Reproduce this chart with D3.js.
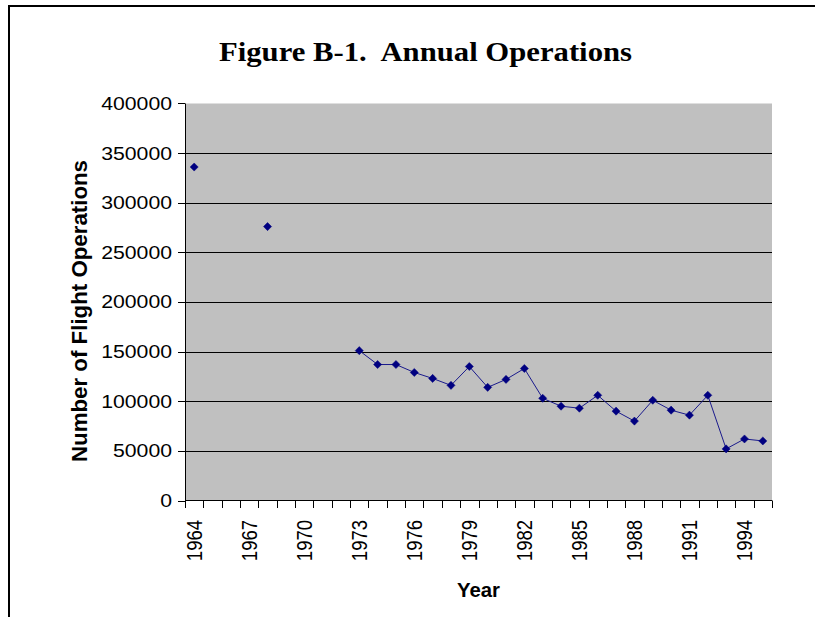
<!DOCTYPE html>
<html>
<head>
<meta charset="utf-8">
<script src="https://cdn.jsdelivr.net/npm/d3@7"></script>
<style>
  html, body { margin: 0; padding: 0; background: #fff; }
  svg { display: block; }
</style>
</head>
<body>
<svg id="chart" width="815" height="617"></svg>
<script>
// ---- data ----
const years = d3.range(1964, 1996);            // category axis 1964..1995
const obsYears = [1964, 1968, 1973, 1974, 1975, 1976, 1977, 1978, 1979, 1980,
                  1981, 1982, 1983, 1984, 1985, 1986, 1987, 1988, 1989, 1990,
                  1991, 1992, 1993, 1994, 1995];
const operations = [336000, 276000, 151000, 137000, 137000, 129000, 123000, 116000, 135000, 114000,
                    122000, 133000, 103000, 95000, 93000, 106000, 90000, 80000, 101000, 91000,
                    86000, 106000, 52000, 62000, 60000];
const yTicks = [0, 50000, 100000, 150000, 200000, 250000, 300000, 350000, 400000];
const xTickLabels = ["1964","1967","1970","1973","1976","1979","1982","1985","1988","1991","1994"];

const titleText = "Figure B-1.  Annual Operations";
const yTitle = "Number of Flight Operations";
const xTitle = "Year";

// ---- layout ----
const svg = d3.select("#chart");
const L = 185, R = 772, T = 103.5, B = 500.5;
const SX = 1.18; // horizontal stretch of the original picture

const x = d3.scaleBand().domain(years).range([L, R]).paddingInner(0).paddingOuter(0);
const y = d3.scaleLinear().domain([0, 400000]).range([B, T]);

// outer frame (only top and left visible)
svg.append("path")
  .attr("d", `M9,617 L9,6 L815,6`)
  .attr("fill", "none").attr("stroke", "#000").attr("stroke-width", 2);

// title
svg.append("text")
  .attr("x", 219).attr("y", 61)
  .attr("font-family", "'Liberation Serif','Times New Roman',serif")
  .attr("font-weight", "bold").attr("font-size", 28)
  .attr("textLength", 413).attr("lengthAdjust", "spacingAndGlyphs")
  .style("white-space", "pre")
  .text(titleText);

// plot background
svg.append("rect").attr("x", L).attr("y", T).attr("width", R - L).attr("height", B - T)
  .attr("fill", "#c0c0c0");

// gridlines
svg.append("g").selectAll("line").data(yTicks.filter(v => v > 0 && v < 400000)).join("line")
  .attr("x1", L).attr("x2", R)
  .attr("y1", d => Math.round(y(d)) + 0.5).attr("y2", d => Math.round(y(d)) + 0.5)
  .attr("stroke", "#000").attr("stroke-width", 1);

// y axis
svg.append("line").attr("x1", L + 0.5).attr("x2", L + 0.5).attr("y1", T).attr("y2", B)
  .attr("stroke", "#000");
const yg = svg.append("g");
yg.selectAll("line").data(yTicks).join("line")
  .attr("x1", L - 7).attr("x2", L)
  .attr("y1", d => Math.round(y(d)) + 0.5 - (d === 400000 ? 1 : 0))
  .attr("y2", d => Math.round(y(d)) + 0.5 - (d === 400000 ? 1 : 0))
  .attr("stroke", "#000");
yg.selectAll("text").data(yTicks).join("text")
  .attr("transform", d => `translate(172,${y(d)}) scale(${SX},1)`)
  .attr("text-anchor", "end").attr("dy", "0.36em")
  .attr("font-family", "'Liberation Sans',Arial,sans-serif").attr("font-size", 18)
  .attr("fill", "#000")
  .text(d => d3.format("d")(d));

// x axis
svg.append("line").attr("x1", L).attr("x2", R).attr("y1", B).attr("y2", B).attr("stroke", "#000");
const bounds = years.map(d => x(d)).concat([R]);
svg.append("g").selectAll("line").data(bounds).join("line")
  .attr("x1", d => Math.round(d) + 0.5).attr("x2", d => Math.round(d) + 0.5)
  .attr("y1", B).attr("y2", B + 7.5)
  .attr("stroke", "#000");
svg.append("g").selectAll("text").data(xTickLabels).join("text")
  .attr("transform", d => `translate(${x(+d) + x.bandwidth() / 2},520) scale(${SX},1) rotate(-90)`)
  .attr("text-anchor", "end").attr("dy", "0.36em")
  .attr("font-family", "'Liberation Sans',Arial,sans-serif").attr("font-size", 18.5)
  .attr("fill", "#000")
  .text(d => d);

// axis titles
svg.append("text")
  .attr("transform", `translate(79,311) scale(${SX},1) rotate(-90)`)
  .attr("text-anchor", "middle").attr("dy", "0.36em")
  .attr("font-family", "'Liberation Sans',Arial,sans-serif").attr("font-weight", "bold")
  .attr("font-size", 18.5)
  .attr("textLength", 302).attr("lengthAdjust", "spacingAndGlyphs")
  .text(yTitle);
svg.append("text")
  .attr("x", 457).attr("y", 597)
  .attr("font-family", "'Liberation Sans',Arial,sans-serif").attr("font-weight", "bold")
  .attr("font-size", 21)
  .attr("textLength", 43).attr("lengthAdjust", "spacingAndGlyphs")
  .text(xTitle);

// data series
const full = years.map(yr => {
  const i = obsYears.indexOf(yr);
  return { year: yr, value: i >= 0 ? operations[i] : null };
});
const cx = d => x(d.year) + x.bandwidth() / 2;
const line = d3.line().defined(d => d.value != null).x(cx).y(d => y(d.value));
svg.append("path").datum(full).attr("d", line)
  .attr("fill", "none").attr("stroke", "#1a1a8c").attr("stroke-width", 1);
const diamond = d3.symbol().type(d3.symbolDiamond2).size(42);
svg.append("g").selectAll("path").data(full.filter(d => d.value != null)).join("path")
  .attr("transform", d => `translate(${cx(d)},${y(d.value)})`)
  .attr("d", diamond)
  .attr("fill", "#000080").attr("stroke", "#000080").attr("stroke-width", 0.5);
</script>
</body>
</html>
